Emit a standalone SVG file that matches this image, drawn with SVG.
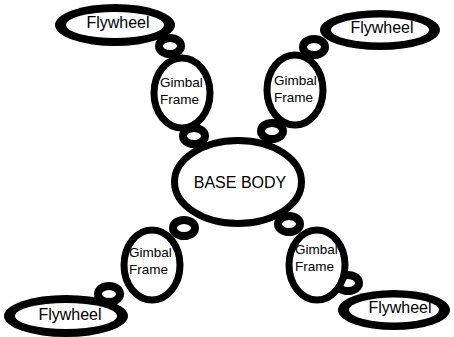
<svg xmlns="http://www.w3.org/2000/svg" width="454" height="337" viewBox="0 0 454 337">
  <style>
    .ring { fill: #fff; stroke: #000; stroke-width: 8; }
    .gimbal { fill: #fff; stroke: #000; stroke-width: 7; }
    .base { fill: #fff; stroke: #000; stroke-width: 7; }
    .rim { fill: #000; }
    .hub { fill: #fff; }
    text { font-family: "Liberation Sans", Arial, sans-serif; fill: #000; }
    .fw { font-size: 16px; text-anchor: middle; }
    .gf { font-size: 13.5px; }
    .bb { font-size: 16px; text-anchor: middle; }
  </style>
  <rect width="454" height="337" fill="#fff"/>

  <!-- linking rings between the bodies -->
  <g id="connectors">
    <ellipse class="ring" cx="170" cy="46" rx="11" ry="8"/>
    <ellipse class="ring" cx="194" cy="136" rx="11" ry="8"/>
    <ellipse class="ring" cx="314" cy="47" rx="11" ry="8"/>
    <ellipse class="ring" cx="272" cy="131" rx="11" ry="8"/>
    <ellipse class="ring" cx="184" cy="228" rx="11" ry="8"/>
    <ellipse class="ring" cx="109" cy="294" rx="11" ry="8"/>
    <ellipse class="ring" cx="289" cy="224" rx="11" ry="8"/>
    <ellipse class="ring" cx="348" cy="283" rx="11" ry="8"/>
  </g>

  <g id="base-body">
    <ellipse class="base" cx="238" cy="182" rx="63.5" ry="41.5"/>
    <text class="bb" x="240" y="188">BASE BODY</text>
  </g>

  <g id="gimbal-tl">
    <ellipse class="gimbal" cx="182" cy="93" rx="28" ry="35"/>
    <text class="gf" x="160" y="87">Gimbal</text>
    <text class="gf" x="160" y="104">Frame</text>
  </g>
  <g id="gimbal-tr">
    <ellipse class="gimbal" cx="295" cy="90" rx="28" ry="35"/>
    <text class="gf" x="274" y="85">Gimbal</text>
    <text class="gf" x="274" y="102">Frame</text>
  </g>
  <g id="gimbal-bl">
    <ellipse class="gimbal" cx="152" cy="265" rx="28" ry="35"/>
    <text class="gf" x="129" y="257">Gimbal</text>
    <text class="gf" x="129" y="274">Frame</text>
  </g>
  <g id="gimbal-br">
    <ellipse class="gimbal" cx="317" cy="265" rx="28" ry="35"/>
    <text class="gf" x="295" y="254">Gimbal</text>
    <text class="gf" x="295" y="271">Frame</text>
  </g>

  <g id="flywheel-tl">
    <ellipse class="rim" cx="115" cy="25" rx="60" ry="21"/>
    <ellipse class="hub" cx="115" cy="25" rx="49" ry="13"/>
    <text class="fw" x="118" y="28">Flywheel</text>
  </g>
  <g id="flywheel-tr">
    <ellipse class="rim" cx="380" cy="30" rx="60" ry="20"/>
    <ellipse class="hub" cx="380" cy="30" rx="49" ry="12.5"/>
    <text class="fw" x="382" y="33">Flywheel</text>
  </g>
  <g id="flywheel-bl">
    <ellipse class="rim" cx="66" cy="316" rx="62" ry="21"/>
    <ellipse class="hub" cx="66" cy="316" rx="51" ry="13"/>
    <text class="fw" x="70" y="320">Flywheel</text>
  </g>
  <g id="flywheel-br">
    <ellipse class="rim" cx="394" cy="310" rx="56" ry="20"/>
    <ellipse class="hub" cx="394" cy="310" rx="45" ry="12.5"/>
    <text class="fw" x="400" y="313">Flywheel</text>
  </g>
</svg>
